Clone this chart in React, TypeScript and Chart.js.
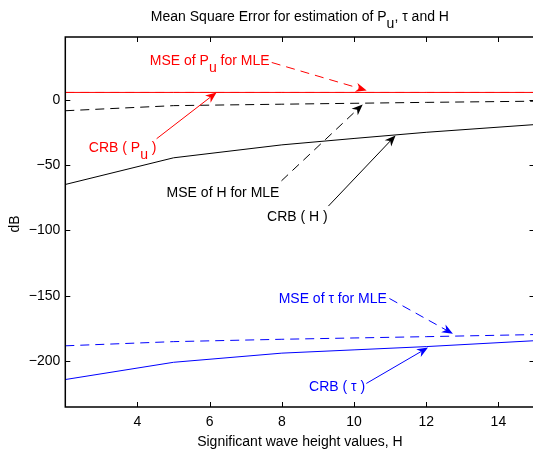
import React, { useEffect, useRef } from 'react';
import { Chart, registerables } from 'chart.js';

Chart.register(...registerables);

// ---- data ----
const H_VALUES = [2, 5, 8, 10, 12, 15];
const CRB_PU = [5.6, 5.6, 5.6, 5.6, 5.6, 5.6];
const MSE_PU = [5.6, 5.6, 5.6, 5.6, 5.6, 5.6];
const CRB_H = [-64.8, -44.4, -34.5, -29.6, -24.9, -19.0];
const MSE_H = [-8.4, -4.5, -3.4, -2.7, -2.0, -1.1];
const CRB_TAU = [-214, -200.8, -193.8, -191.3, -188.8, -184.3];
const MSE_TAU = [-188.2, -185.0, -183.2, -182.2, -181.2, -179.6];
const X_TICKS = [4, 6, 8, 10, 12, 14];
const Y_TICKS = [-200, -150, -100, -50, 0];
const X_RANGE = [2, 15];
const Y_RANGE = [-235, 48];

const TITLE = [{ t: 'Mean Square Error for estimation of P' }, { t: 'u', sub: true }, { t: ', \u03c4 and H' }];
const X_LABEL = 'Significant wave height values, H';
const Y_LABEL = 'dB';

type Seg = { t: string; sub?: boolean };
type Annot = { segs: Seg[]; color: string; tx: number; ty: number; from: [number, number]; to: [number, number]; dashed: boolean };

// text anchor (centre x, baseline y) and arrow (from -> to), all in data coordinates
const ANNOTS: Annot[] = [
  { segs: [{ t: 'MSE of P' }, { t: 'u', sub: true }, { t: ' for MLE' }], color: '#ff0000', tx: 6.0, ty: 26.5, from: [7.72, 28.5], to: [10.35, 7.1], dashed: true },
  { segs: [{ t: 'CRB ( P' }, { t: 'u', sub: true }, { t: ' )' }], color: '#ff0000', tx: 3.59, ty: -39.9, from: [4.53, -29.8], to: [6.19, 5.6], dashed: false },
  { segs: [{ t: 'MSE of H for MLE' }], color: '#000000', tx: 6.37, ty: -74.2, from: [7.99, -62], to: [10.24, -3.6], dashed: true },
  { segs: [{ t: 'CRB ( H )' }], color: '#000000', tx: 8.43, ty: -92.6, from: [9.29, -81.3], to: [11.15, -27.3], dashed: false },
  { segs: [{ t: 'MSE of \u03c4 for MLE' }], color: '#0000ff', tx: 9.41, ty: -155.7, from: [10.98, -152], to: [12.74, -179], dashed: true },
  { segs: [{ t: 'CRB ( \u03c4 )' }], color: '#0000ff', tx: 9.53, ty: -223, from: [10.34, -217], to: [12.05, -189.5], dashed: false },
];

const FAMILY = '"Liberation Sans", Arial, Helvetica, sans-serif';
const FS = 14;
const SUB_SHIFT = 7;
const DASH = [9, 6];

function drawRich(ctx: CanvasRenderingContext2D, segs: Seg[], x: number, y: number, color: string) {
  ctx.save();
  ctx.font = `${FS}px ${FAMILY}`;
  ctx.fillStyle = color;
  ctx.textBaseline = 'alphabetic';
  ctx.textAlign = 'left';
  const total = segs.reduce((w, s) => w + ctx.measureText(s.t).width, 0);
  let cx = x - total / 2;
  for (const s of segs) {
    ctx.fillText(s.t, cx, s.sub ? y + SUB_SHIFT : y);
    cx += ctx.measureText(s.t).width;
  }
  ctx.restore();
}

function drawArrow(ctx: CanvasRenderingContext2D, x1: number, y1: number, x2: number, y2: number, color: string, dashed: boolean) {
  ctx.save();
  ctx.strokeStyle = color;
  ctx.fillStyle = color;
  ctx.lineWidth = 1;
  const ang = Math.atan2(y2 - y1, x2 - x1);
  const L = 11;
  const W = 4.5;
  const c = Math.cos(ang);
  const s = Math.sin(ang);
  const bx = x2 - c * L * 0.7;
  const by = y2 - s * L * 0.7;
  ctx.setLineDash(dashed ? DASH : []);
  ctx.beginPath();
  ctx.moveTo(x1, y1);
  ctx.lineTo(bx, by);
  ctx.stroke();
  ctx.setLineDash([]);
  const hx = x2 - c * L;
  const hy = y2 - s * L;
  const px = -s;
  const py = c;
  ctx.beginPath();
  ctx.moveTo(x2, y2);
  ctx.lineTo(hx + px * W, hy + py * W);
  ctx.lineTo(bx, by);
  ctx.lineTo(hx - px * W, hy - py * W);
  ctx.closePath();
  ctx.fill();
  ctx.restore();
}

const decorPlugin = {
  id: 'decor',
  afterDatasetsDraw(chart: any) {
    const ctx: CanvasRenderingContext2D = chart.ctx;
    const xs = chart.scales.x;
    const ys = chart.scales.y;
    const { left, right, top, bottom } = chart.chartArea;

    for (const a of ANNOTS) {
      drawArrow(ctx, xs.getPixelForValue(a.from[0]), ys.getPixelForValue(a.from[1]),
        xs.getPixelForValue(a.to[0]), ys.getPixelForValue(a.to[1]), a.color, a.dashed);
      drawRich(ctx, a.segs, xs.getPixelForValue(a.tx), ys.getPixelForValue(a.ty), a.color);
    }

    // axes box with inward ticks
    ctx.save();
    ctx.strokeStyle = '#000';
    ctx.lineWidth = 1.5;
    ctx.beginPath();
    ctx.rect(left, top, right - left, bottom - top);
    ctx.stroke();
    ctx.lineWidth = 1;
    const TL = 5;
    ctx.beginPath();
    for (const v of X_TICKS) {
      const px = Math.round(xs.getPixelForValue(v)) + 0.5;
      ctx.moveTo(px, bottom);
      ctx.lineTo(px, bottom - TL);
      ctx.moveTo(px, top);
      ctx.lineTo(px, top + TL);
    }
    for (const v of Y_TICKS) {
      const py = Math.round(ys.getPixelForValue(v)) + 0.5;
      ctx.moveTo(left, py);
      ctx.lineTo(left + TL, py);
      ctx.moveTo(right, py);
      ctx.lineTo(right - TL, py);
    }
    ctx.stroke();
    ctx.restore();
  },
  afterDraw(chart: any) {
    const ctx: CanvasRenderingContext2D = chart.ctx;
    const { left, right, top, bottom } = chart.chartArea;
    const cx = (left + right) / 2;
    drawRich(ctx, TITLE, cx, top - 16.5, '#000');
    ctx.save();
    ctx.font = `${FS}px ${FAMILY}`;
    ctx.fillStyle = '#000';
    ctx.textAlign = 'center';
    ctx.textBaseline = 'alphabetic';
    ctx.fillText(X_LABEL, cx, bottom + 39);
    ctx.translate(18.7, (top + bottom) / 2 + 2);
    ctx.rotate(-Math.PI / 2);
    ctx.fillText(Y_LABEL, 0, 0);
    ctx.restore();
  },
};

const fmt = (v: any) => String(v).replace('-', '\u2212');

export default function App() {
  const ref = useRef<HTMLCanvasElement>(null);
  useEffect(() => {
    document.body.style.margin = '0';
    document.body.style.overflow = 'hidden';
    const canvas = ref.current!;
    const mk = (arr: number[]) => H_VALUES.map((x, i) => ({ x, y: arr[i] }));
    const line = (label: string, arr: number[], color: string, dashed: boolean) => ({
      label,
      data: mk(arr),
      borderColor: color,
      backgroundColor: color,
      borderWidth: 1,
      borderDash: dashed ? DASH : [],
      pointRadius: 0,
      tension: 0,
      fill: false,
    });
    const chart = new Chart(canvas, {
      type: 'line',
      data: {
        datasets: [
          line('CRB ( H )', CRB_H, '#000000', false),
          line('MSE of H for MLE', MSE_H, '#000000', true),
          line('CRB ( \u03c4 )', CRB_TAU, '#0000ff', false),
          line('MSE of \u03c4 for MLE', MSE_TAU, '#0000ff', true),
          line('CRB ( Pu )', CRB_PU, '#ff0000', false),
          line('MSE of Pu for MLE', MSE_PU, '#ff6060', true),
        ] as any,
      },
      options: {
        animation: false,
        responsive: false,
        devicePixelRatio: 1,
        layout: { padding: { top: 37, right: 5.5, left: 0, bottom: 0 } },
        plugins: { legend: { display: false }, title: { display: false }, tooltip: { enabled: false } },
        scales: {
          x: {
            type: 'linear',
            min: X_RANGE[0],
            max: X_RANGE[1],
            grid: { display: false, drawTicks: false },
            border: { display: false },
            afterBuildTicks: (s: any) => { s.ticks = X_TICKS.map((v) => ({ value: v })); },
            afterFit: (s: any) => { s.height = 42; },
            ticks: { font: { family: FAMILY, size: FS }, color: '#000', padding: 7, autoSkip: false, maxRotation: 0, callback: fmt },
          },
          y: {
            type: 'linear',
            min: Y_RANGE[0],
            max: Y_RANGE[1],
            grid: { display: false, drawTicks: false },
            border: { display: false },
            afterBuildTicks: (s: any) => { s.ticks = Y_TICKS.map((v) => ({ value: v })); },
            afterFit: (s: any) => { s.width = 65.3; },
            ticks: { font: { family: FAMILY, size: FS }, color: '#000', padding: 5, autoSkip: false, callback: fmt },
          },
        },
      } as any,
      plugins: [decorPlugin],
    });
    return () => chart.destroy();
  }, []);
  return (
    <div style={{ position: 'absolute', left: 0, top: 0, width: 540, height: 449, background: '#fff' }}>
      <canvas ref={ref} width={540} height={449} style={{ display: 'block' }} />
    </div>
  );
}
